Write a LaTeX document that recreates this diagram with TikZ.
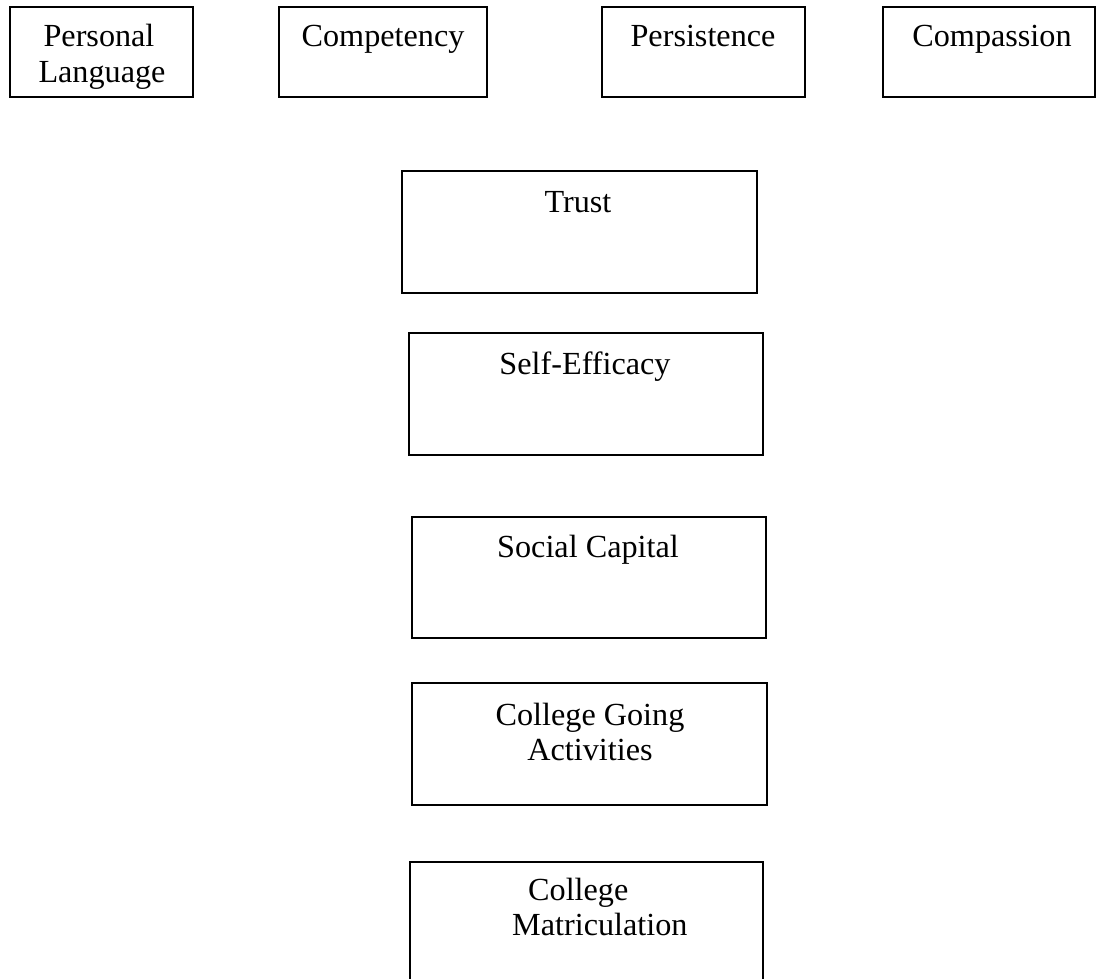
\documentclass[tikz,border=0pt]{standalone}
\usepackage{fontspec}
\setmainfont{Liberation Serif}
\begin{document}
\begin{tikzpicture}[x=1pt,y=-1pt,
  boxstyle/.style={draw=black,line width=2.7pt,fill=none},
  lbl/.style={font=\fontsize{32.2}{36}\selectfont,inner sep=0pt,text=black}]
\useasboundingbox (0,0) rectangle (1096,979);
\clip (0,0) rectangle (1096,979);
% boxes
\draw[boxstyle] (10,7) rectangle (193,97);
\node[lbl,anchor=base] (plt1) at (99,47) {Personal};
\node[lbl,anchor=base] (plt2) at (102,83) {Language};

\draw[boxstyle] (279,7) rectangle (487,97);
\node[lbl,anchor=base] (comp) at (383,47) {Competency};

\draw[boxstyle] (602,7) rectangle (805,97);
\node[lbl,anchor=base] (pers) at (703,47) {Persistence};

\draw[boxstyle] (883,7) rectangle (1095,97);
\node[lbl,anchor=base] (compa) at (992,47) {Compassion};

\draw[boxstyle] (402,171) rectangle (757,293);
\node[lbl,anchor=base] (trust) at (578,212) {Trust};

\draw[boxstyle] (409,333) rectangle (763,455);
\node[lbl,anchor=base] (self) at (585,374) {Self-Efficacy};

\draw[boxstyle] (412,517) rectangle (766,638);
\node[lbl,anchor=base] (soc) at (588,557) {Social Capital};

\draw[boxstyle] (412,683) rectangle (767,805);
\node[lbl,anchor=base] (cga1) at (590,725) {College Going};
\node[lbl,anchor=base] (cga2) at (590,760) {Activities};

\draw[boxstyle] (410,862) rectangle (763,1010);
\node[lbl,anchor=base west] (cm1) at (528,900) {College};
\node[lbl,anchor=base west] (cm2) at (512,935) {Matriculation};
\end{tikzpicture}
\end{document}
